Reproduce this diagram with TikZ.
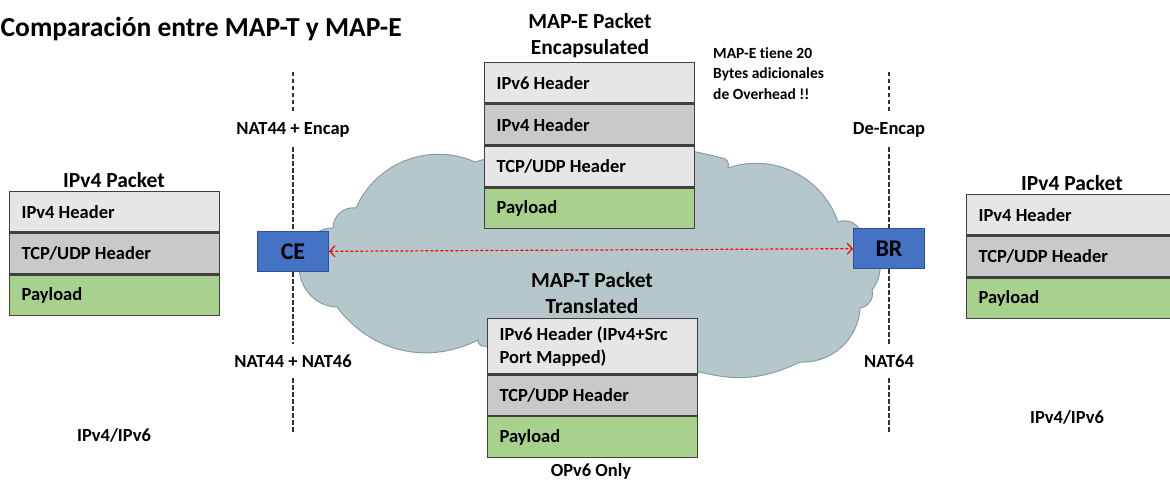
\documentclass[tikz,border=0pt]{standalone}
\usepackage{fontspec}
\setmainfont{Carlito}[Ligatures=NoCommon]
\usetikzlibrary{arrows.meta}

\definecolor{rowlight}{RGB}{231,230,230}
\definecolor{rowgray}{RGB}{201,201,201}
\definecolor{rowgreen}{RGB}{169,209,142}
\definecolor{rowedge}{RGB}{64,64,64}
\definecolor{cloudfill}{RGB}{182,199,203}
\definecolor{cloudline}{RGB}{128,160,168}
\definecolor{boxblue}{RGB}{68,114,196}
\definecolor{boxedge}{RGB}{47,82,143}

\newcommand{\rowfont}{\fontsize{18.5}{23}\selectfont\bfseries}
\newcommand{\ttlfont}{\fontsize{21.5}{26}\selectfont\bfseries}
\newcommand{\notefont}{\fontsize{15.5}{20.5}\selectfont\bfseries}
\newcommand{\headfont}{\fontsize{27.5}{32}\selectfont\bfseries}
\newcommand{\devfont}{\fontsize{24}{28}\selectfont\bfseries}

\begin{document}
\begin{tikzpicture}[x=1pt,y=-1pt,
    row/.style={draw=rowedge,line width=1.3pt,minimum width=210pt,minimum height=40.5pt,
      text width=186pt,align=flush left,inner xsep=12pt,inner ysep=0pt,font=\rowfont},
    ttl/.style={align=center,inner sep=0pt,font=\ttlfont},
    side/.style={inner xsep=2pt,inner ysep=0pt,minimum height=34pt,font=\rowfont},
    dev/.style={draw=boxedge,line width=1pt,fill=boxblue,minimum width=71pt,minimum height=40pt,font=\devfont},
    sep/.style={black!80,line width=1.8pt,dash pattern=on 4.5pt off 2.5pt},
    link/.style={red,line width=1.2pt,dash pattern=on 3pt off 2pt,
      {Straight Barb[length=5pt,width=11pt]}-{Straight Barb[length=5pt,width=11pt]}}]
  \clip (0,0) rectangle (1170,481);

  % cloud
  \draw[fill=cloudfill,draw=cloudline,line width=1pt]
    (333,228) to[bend left=50] (356,208) to[bend left=45] (475,162)
    to[bend left=15] (722,158) to[bend left=60] (728,168) to[bend left=45] (838,222)
    to[bend left=40] (860,230) to[bend left=50] (872,290) to[bend left=50] (860,308)
    to[bend left=45] (800,362) to[bend left=20] (700,372) to[bend left=20] (485,346)
    to[bend left=60] (478,340) to[bend left=40] (337,307) to[bend left=50] (300,262)
    to[bend left=45] cycle;

  \node[anchor=base west,inner sep=0pt,font=\headfont] (title) at (0.5,37) {Comparación entre MAP-T y MAP-E};

  % IPv4 packet, left
  \node[ttl] (lttl) at (114,180) {IPv4 Packet};
  \node[row,fill=rowlight,anchor=north west] (l1) at (9,191) {IPv4 Header};
  \node[row,fill=rowgray,anchor=north] (l2) at (l1.south) {TCP/UDP Header};
  \node[row,fill=rowgreen,anchor=north] (l3) at (l2.south) {Payload};

  % IPv4 packet, right
  \node[ttl] (rttl) at (1072,183) {IPv4 Packet};
  \node[row,fill=rowlight,anchor=north west] (r1) at (966,194) {IPv4 Header};
  \node[row,fill=rowgray,anchor=north] (r2) at (r1.south) {TCP/UDP Header};
  \node[row,fill=rowgreen,anchor=north] (r3) at (r2.south) {Payload};

  % MAP-E
  \node[ttl] (ettl) at (590,36) {MAP-E Packet\\Encapsulated};
  \node[row,fill=rowlight,anchor=north west] (e1) at (484,62) {IPv6 Header};
  \node[row,fill=rowgray,anchor=north] (e2) at (e1.south) {IPv4 Header};
  \node[row,fill=rowlight,anchor=north] (e3) at (e2.south) {TCP/UDP Header};
  \node[row,fill=rowgreen,anchor=north] (e4) at (e3.south) {Payload};
  \node[anchor=north west,align=left,inner sep=0pt,font=\notefont] (note) at (713,47)
    {MAP-E tiene 20\\Bytes adicionales\\de Overhead !!};

  % MAP-T
  \node[ttl] (tttl) at (592,293) {MAP-T Packet\\Translated};
  \node[row,fill=rowlight,anchor=north west,minimum height=55pt] (t1) at (487,318)
    {IPv6 Header (IPv4+Src\\Port Mapped)};
  \node[row,fill=rowgray,anchor=north] (t2) at (t1.south) {TCP/UDP Header};
  \node[row,fill=rowgreen,anchor=north] (t3) at (t2.south) {Payload};
  \node[font=\rowfont,inner sep=0pt] (only) at (591,471) {OPv6 Only};

  % CE and BR
  \node[dev] (ce) at (293,251.5) {CE};
  \node[dev] (br) at (889,248.5) {BR};
  \draw[link] (ce) -- (br);

  % borders
  \coordinate (ltop) at (293,72);
  \coordinate (lbot) at (293,432);
  \coordinate (rtop) at (889,72);
  \coordinate (rbot) at (889,432);
  \node[side] (encap) at (293,130) {NAT44 + Encap};
  \node[side] (nat46) at (293,361) {NAT44 + NAT46};
  \node[side] (decap) at (889,130) {De-Encap};
  \node[side] (nat64) at (889,361) {NAT64};
  \draw[sep] (ltop) -- (encap) (encap) -- (ce) (ce) -- (nat46) (nat46) -- (lbot);
  \draw[sep] (rtop) -- (decap) (decap) -- (br) (br) -- (nat64) (nat64) -- (rbot);

  \node[font=\rowfont,inner sep=0pt] (lnet) at (114,435) {IPv4/IPv6};
  \node[font=\rowfont,inner sep=0pt] (rnet) at (1067,417) {IPv4/IPv6};
\end{tikzpicture}
\end{document}
